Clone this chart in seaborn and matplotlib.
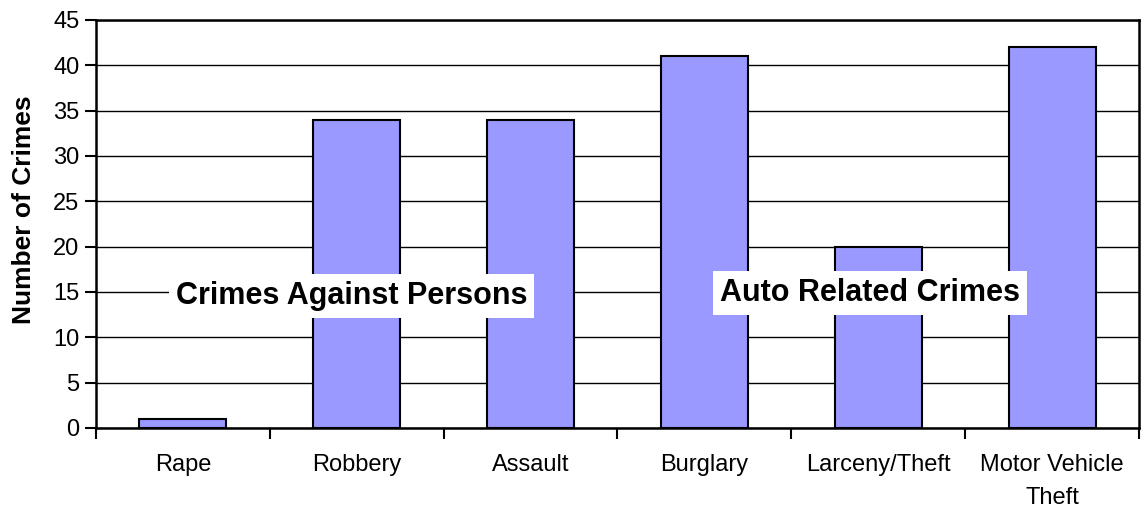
import matplotlib
matplotlib.use("Agg")
import matplotlib.pyplot as plt
import seaborn as sns
import pandas as pd
import numpy as np

categories = ["Rape", "Robbery", "Assault", "Burglary", "Larceny/Theft", "Motor Vehicle\nTheft"]
crimes = [1, 34, 34, 41, 20, 42]
yticks = [0, 5, 10, 15, 20, 25, 30, 35, 40, 45]

sns.set_style("white", {"xtick.bottom": True, "ytick.left": True,
                        "text.color": "black", "xtick.color": "black",
                        "ytick.color": "black", "axes.labelcolor": "black"})
plt.rcParams['font.family'] = ['Liberation Sans', 'DejaVu Sans']

df = pd.DataFrame({"Category": categories, "Crimes": crimes})

fig = plt.figure(figsize=(11.41, 5.08), dpi=100)
ax = fig.add_axes([96 / 1141, 80 / 508, 1043 / 1141, 408 / 508])

sns.barplot(data=df, x="Category", y="Crimes", color="#9999FF", width=0.5,
            edgecolor="black", linewidth=1.5, saturation=1, ax=ax, zorder=3)

ax.set_xlim(-0.5, 5.5)
ax.set_ylim(0, 45)
ax.set_yticks(yticks)
ax.yaxis.grid(True, color="black", linewidth=1)
ax.set_axisbelow(True)

# labels at category centers, tick marks at the boundaries
ax.set_xticks(range(len(categories)))
ax.set_xticklabels(categories, fontsize=17, linespacing=1.6)
ax.set_xticks(np.arange(-0.5, len(categories), 1), minor=True)
ax.tick_params(axis="x", which="major", length=0, pad=19)
ax.tick_params(axis="x", which="minor", bottom=True, length=8, width=1.5,
               color="black", direction="out")
ax.tick_params(axis="y", left=True, length=8, width=1.5, color="black",
               direction="out", labelsize=17, pad=4)

for s in ax.spines.values():
    s.set_color("black")
    s.set_linewidth(1.8)

ax.set_xlabel("")
ax.set_ylabel("Number of Crimes", fontsize=19, fontweight="bold")
ax.yaxis.set_label_coords(-0.058, 0.534)

box = dict(facecolor="white", edgecolor="none", pad=5)
ax.text(0.97, 14.6, "Crimes Against Persons", fontsize=22, fontweight="bold",
        ha="center", va="center", bbox=box, zorder=5)
ax.text(3.95, 14.9, "Auto Related Crimes", fontsize=22, fontweight="bold",
        ha="center", va="center", bbox=box, zorder=5)

fig.savefig("out.png", dpi=100)
